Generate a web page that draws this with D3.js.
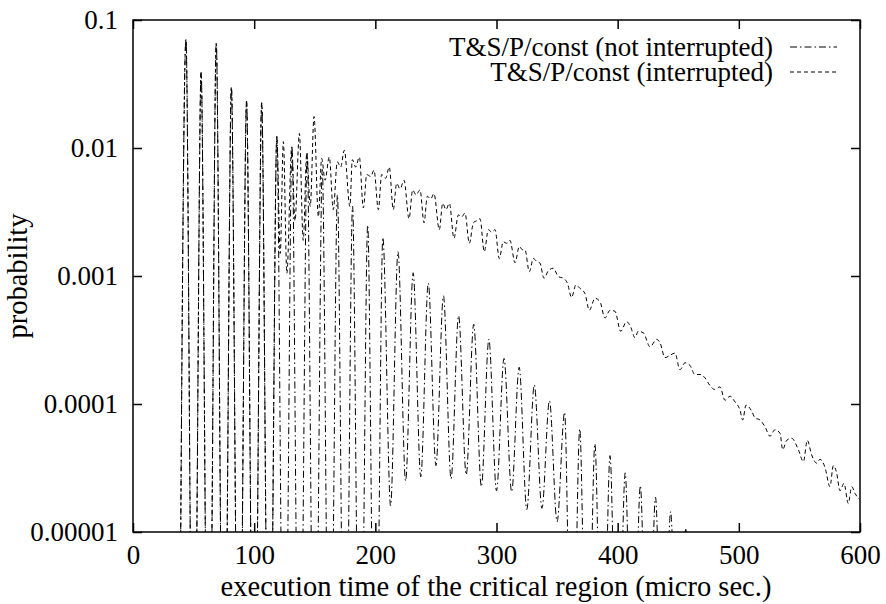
<!DOCTYPE html>
<html>
<head>
<meta charset="utf-8">
<title>execution time of the critical region</title>
<style type="text/css">
body { margin: 0; background: #fff; }
text { font-family: "Liberation Serif", "Times New Roman", serif; fill: #000; }
.tick text { font-size: 27px; }
.axis-title { font-size: 28.5px; }
.legend text { font-size: 27px; }
.series { fill: none; stroke: #000; stroke-width: 1; }
</style>
</head>
<body>
<svg class="chart" width="886" height="604"></svg>
<script src="https://d3js.org/d3.v7.min.js"></script>
<script type="text/javascript">
// tick values and labels
var xTicks = [0, 100, 200, 300, 400, 500, 600];
var yTicks = [1e-5, 1e-4, 1e-3, 1e-2, 0.1];
var yTickLabels = ["0.00001", "0.0001", "0.001", "0.01", "0.1"];

var seriesNames = ["T&S/P/const (not interrupted)", "T&S/P/const (interrupted)"];

// [time (micro sec.), probability]; 0 = nothing measured
var notInterrupted = [
    [38.7, 0], [43.7, 0.0706], [48.7, 0], [51.2, 0], [56.2, 0.039], [61.2, 0],
    [63.7, 0], [68.7, 0.0657], [73.7, 0], [76.2, 0], [81.2, 0.0298], [86.2, 0],
    [88.7, 0], [93.7, 0.0233], [98.7, 0], [101.2, 0], [106.2, 0.0226], [111.2, 0],
    [113.7, 0], [118.7, 0.0123], [123.7, 0], [126.2, 0], [131.2, 0.0102], [136.2, 0],
    [138.7, 0], [143.7, 0.0091], [148.7, 0], [151.2, 0], [156.2, 0.0068], [161.2, 0],
    [163.7, 0], [168.7, 0.0043], [173.7, 0], [176.2, 0], [181.2, 0.0035], [186.2, 0],
    [188.7, 0], [193.7, 0.0025], [198.7, 0], [201.2, 0], [206.2, 0.0020],
    [212.6, 1.6e-5], [218.7, 0.00155], [225.0, 2.5e-5], [231.2, 0.00106],
    [237.5, 2.7e-5], [243.7, 0.00088], [250.0, 3.3e-5], [256.2, 0.0007],
    [262.5, 2.6e-5], [268.7, 0.00049], [275.0, 2.8e-5], [281.2, 0.00042],
    [287.5, 2.26e-5], [293.7, 0.00032], [300.0, 2.1e-5], [306.2, 0.000227],
    [312.5, 2.06e-5], [318.7, 0.000194], [325.0, 1.5e-5], [331.2, 0.000141],
    [337.5, 1.53e-5], [343.7, 0.000106], [350.0, 1.2e-5], [356.2, 8.6e-5],
    [361.2, 0], [363.7, 0], [368.7, 6.4e-5], [373.7, 0], [376.2, 0], [381.2, 4.9e-5],
    [386.2, 0], [388.7, 0], [393.7, 3.95e-5], [398.7, 0], [401.2, 0], [406.2, 2.9e-5],
    [411.2, 0], [413.7, 0], [418.7, 2.3e-5], [423.7, 0], [426.2, 0], [431.2, 1.87e-5],
    [436.2, 0], [438.7, 0], [443.7, 1.44e-5], [448.7, 0], [451.2, 0], [456.2, 1.05e-5],
    [461.2, 0], [600, 0]
];

var interrupted = [
    [38.7, 0], [43.7, 0.0706], [48.7, 0], [51.2, 0], [56.2, 0.039], [61.2, 0],
    [63.7, 0], [68.7, 0.0657], [73.7, 0], [76.2, 0], [81.2, 0.0298], [86.2, 0],
    [88.7, 0], [93.7, 0.0233], [98.7, 0], [101.2, 0], [106.2, 0.0226], [111.2, 0],
    [113.7, 0], [118.7, 0.0123], [121.5, 0.0015], [124.1, 0.0112], [127.0, 0.00105],
    [131.0, 0.0102], [133.7, 0.0027], [137.3, 0.013], [140.5, 0.0019], [143.4, 0.0091],
    [146.3, 0.0035], [149.4, 0.0176], [153.0, 0.0029], [155.7, 0.0083], [158.5, 0.0056],
    [162.0, 0.0085], [165.3, 0.0033], [168.6, 0.0078], [171.4, 0.0071], [174.4, 0.0096],
    [179.0, 0.0035], [181.0, 0.0081], [183.8, 0.0071], [186.8, 0.0085], [190.1, 0.0034],
    [192.9, 0.0062], [196.2, 0.006], [198.9, 0.0067], [202.5, 0.0033], [205.2, 0.0062],
    [208.5, 0.0058], [211.5, 0.0071], [214.8, 0.0033], [217.6, 0.0053], [220.4, 0.0048],
    [223.7, 0.0056], [227.8, 0.0028], [230.8, 0.0047], [233.6, 0.0043], [236.9, 0.0047],
    [240.2, 0.0026], [242.9, 0.0042], [245.7, 0.004], [248.4, 0.0044], [252.8, 0.0023],
    [255.6, 0.0037], [258.3, 0.0033], [261.1, 0.0037], [264.9, 0.00197], [268.5, 0.003],
    [271.3, 0.0029], [274.0, 0.0031], [277.6, 0.0018], [280.9, 0.0026], [283.6, 0.0027],
    [286.4, 0.0028], [289.9, 0.00155], [293.3, 0.0023], [296.0, 0.0022], [298.8, 0.0023],
    [302.3, 0.00137], [305.6, 0.00185], [308.4, 0.0018], [311.1, 0.0019], [315.3, 0.00127],
    [318.8, 0.0017], [321.6, 0.0016], [323.5, 0.0016], [327.1, 0.00108], [330.4, 0.00137],
    [333.2, 0.0013], [335.9, 0.00126], [339.2, 0.00096], [342.8, 0.0011], [346.9, 0.00115],
    [351.0, 0.00099], [355.1, 0.00096], [358.5, 0.00088], [362.0, 0.00068], [365.5, 0.00085],
    [368.9, 0.0008], [373.0, 0.00073], [376.6, 0.00054], [381.3, 0.00067], [385.4, 0.00063],
    [389.5, 0.00047], [393.7, 0.00054], [397.8, 0.00053], [402.5, 0.00037], [407.4, 0.00044],
    [410.7, 0.0004], [414.3, 0.00033], [417.0, 0.00037], [421.2, 0.00036], [426.7, 0.00028],
    [432.2, 0.00032], [435.0, 0.0003], [439.1, 0.00023], [443.2, 0.00024], [447.3, 0.00025],
    [451.4, 0.000185], [455.6, 0.00021], [459.7, 0.0002], [463.8, 0.00017], [468.0, 0.00017],
    [472.1, 0.00016], [476.0, 0.00014], [480.0, 0.00013], [484.4, 0.000136], [488.6, 0.000107],
    [492.7, 0.000115], [496.8, 0.000104], [500.9, 9e-5], [503.2, 7.5e-5], [505.9, 9.8e-5],
    [510.6, 8.8e-5], [513.3, 7.8e-5], [517.5, 7.5e-5], [521.6, 6.65e-5], [525.7, 5.6e-5],
    [529.8, 6.3e-5], [534.0, 5.9e-5], [536.2, 4.4e-5], [539.5, 5.2e-5], [543.6, 5.4e-5],
    [549.1, 4.4e-5], [553.3, 3.55e-5], [556.5, 5.2e-5], [560.1, 4.0e-5], [564.3, 3.45e-5],
    [567.0, 3.7e-5], [571.1, 3.2e-5], [575.2, 2.26e-5], [578.0, 3.3e-5], [580.7, 2.9e-5],
    [583.5, 2.1e-5], [586.8, 2.4e-5], [590.3, 1.67e-5], [593.2, 2.26e-5], [595.9, 2.0e-5],
    [599.5, 1.8e-5]
];

var svg = d3.select("svg"),
    margin = {top: 20, right: 26, bottom: 72, left: 133},
    width = +svg.attr("width") - margin.left - margin.right,
    height = +svg.attr("height") - margin.top - margin.bottom,
    g = svg.append("g").attr("transform", "translate(" + margin.left + "," + margin.top + ")");

var x = d3.scaleLinear().domain([0, 600]).range([0, width]);
var y = d3.scaleLog().domain([1e-5, 0.1]).range([height, 0]);

g.append("clipPath").attr("id", "plot-clip")
    .append("rect").attr("width", width).attr("height", height);

// zero probability is drawn well below the bottom edge, then clipped
var line = d3.line()
    .x(function(d) { return x(d[0]); })
    .y(function(d) { return y(d[1] > 0 ? d[1] : 1e-6); })
    .curve(d3.curveMonotoneX);

var dashes = ["7,3,1.5,3", "4,3"];

g.append("g").attr("clip-path", "url(#plot-clip)")
    .selectAll("path")
    .data([notInterrupted, interrupted])
    .enter().append("path")
    .attr("class", "series")
    .attr("stroke-dasharray", function(d, i) { return dashes[i]; })
    .attr("d", line);

// axes with inward ticks on all four sides
var tickLen = 9;
var bottom = g.append("g").attr("transform", "translate(0," + height + ")")
    .call(d3.axisBottom(x).tickValues(xTicks).tickSize(-tickLen).tickPadding(13));
var top = g.append("g")
    .call(d3.axisTop(x).tickValues(xTicks).tickSize(-tickLen).tickFormat(""));
var left = g.append("g")
    .call(d3.axisLeft(y).tickValues(yTicks).tickSize(-tickLen).tickPadding(15)
        .tickFormat(function(d, i) { return yTickLabels[i]; }));
var right = g.append("g").attr("transform", "translate(" + width + ",0)")
    .call(d3.axisRight(y).tickValues(yTicks).tickSize(-tickLen).tickFormat(""));

g.selectAll(".domain").remove();
g.selectAll(".tick line").attr("stroke", "#000").attr("stroke-width", 1.5);
g.selectAll(".tick text").attr("font-family", null).attr("font-size", null);

g.append("rect")
    .attr("width", width).attr("height", height)
    .attr("fill", "none").attr("stroke", "#000").attr("stroke-width", 1.5);

svg.append("text")
    .attr("class", "axis-title")
    .attr("x", margin.left + width / 2 - 0.5).attr("y", 596)
    .attr("text-anchor", "middle")
    .text("execution time of the critical region (micro sec.)");

svg.append("text")
    .attr("class", "axis-title")
    .attr("transform", "translate(27," + (margin.top + height / 2) + ") rotate(-90)")
    .attr("text-anchor", "middle")
    .text("probability");

// key in the top right corner
var legend = svg.append("g").attr("class", "legend")
    .selectAll("g")
    .data(seriesNames)
    .enter().append("g")
    .attr("transform", function(d, i) { return "translate(0," + (47 + i * 25) + ")"; });

legend.append("text")
    .attr("x", 773).attr("dy", "0.35em")
    .attr("text-anchor", "end")
    .text(function(d) { return d; });

legend.append("line")
    .attr("x1", 790).attr("x2", 837)
    .attr("stroke", "#000").attr("stroke-width", 1)
    .attr("stroke-dasharray", function(d, i) { return dashes[i]; });
</script>
</body>
</html>
